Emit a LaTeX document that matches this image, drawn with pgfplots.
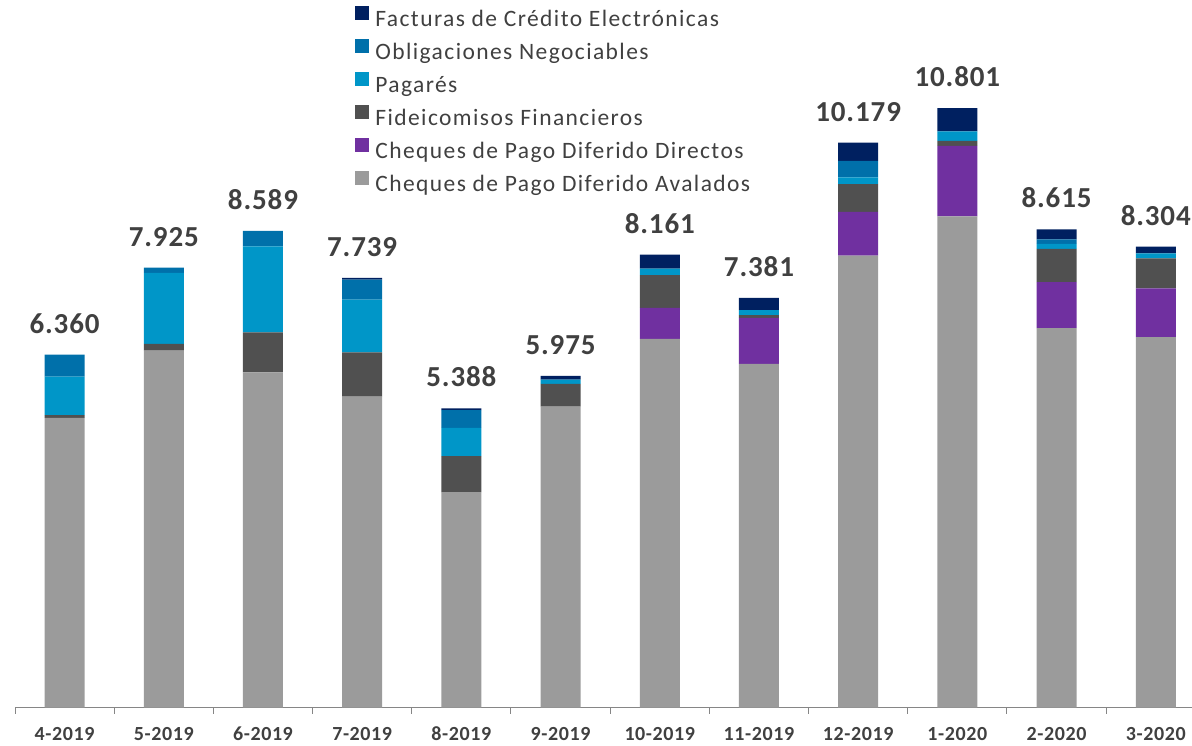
\documentclass[border=0pt]{standalone}
\usepackage{pgfplots}
\usepackage{pgfplotstable}
\pgfplotsset{compat=1.18}
\usepackage{fontspec}
\setmainfont{Carlito}
\newfontfamily\legfont[LetterSpace=6]{Carlito}
\newfontfamily\tickfont[LetterSpace=3]{Carlito}
\definecolor{cAval}{RGB}{155,155,155}
\definecolor{cDir}{RGB}{112,48,160}
\definecolor{cFF}{RGB}{80,80,80}
\definecolor{cPag}{RGB}{0,150,200}
\definecolor{cON}{RGB}{0,112,170}
\definecolor{cFCE}{RGB}{0,32,96}
\definecolor{axisgray}{RGB}{134,134,134}
\definecolor{txt}{RGB}{64,64,64}

\pgfplotstableread{
x av dir ff pag on fce lab total
0 5.22 0 0.05 0.69 0.40 0 0.0001 6.360
1 6.43 0 0.12 1.28 0.095 0 0.0001 7.925
2 6.04 0 0.72 1.55 0.28 0 0.0001 8.589
3 5.60 0 0.80 0.95 0.36 0.03 0.0001 7.739
4 3.88 0 0.65 0.51 0.32 0.03 0.0001 5.388
5 5.42 0 0.41 0.08 0 0.065 0.0001 5.975
6 6.64 0.56 0.59 0.12 0 0.25 0.0001 8.161
7 6.19 0.83 0.05 0.09 0 0.22 0.0001 7.381
8 8.14 0.79 0.50 0.12 0.30 0.33 0.0001 10.179
9 8.85 1.27 0.09 0.17 0 0.42 0.0001 10.801
10 6.835 0.83 0.60 0.09 0.08 0.18 0.0001 8.615
11 6.674 0.88 0.54 0.09 0 0.12 0.0001 8.304
}\datatable

\begin{document}
\begin{tikzpicture}
\begin{axis}[
  scale only axis, width=1177pt, height=707.5pt,
  xmin=-0.5, xmax=11.3654, ymin=0, ymax=12.748,
  ybar stacked, bar width=40pt,
  axis x line=bottom, axis y line=none,
  x axis line style={-, draw=axisgray, line width=1pt},
  ytick=\empty,
  xtick={0,...,11},
  xticklabels={4-2019,5-2019,6-2019,7-2019,8-2019,9-2019,10-2019,11-2019,12-2019,1-2020,2-2020,3-2020},
  major x tick style={draw=none},
  minor xtick={-0.5,0.5,...,10.5},
  minor x tick style={draw=axisgray, line width=1pt},
  minor tick length=6pt,
  tick align=outside,
  x tick label style={font=\tickfont\fontsize{20}{24}\selectfont\bfseries, text=txt, inner sep=0pt, yshift=-15pt},
  clip=false,
  reverse legend,
  legend cell align=left,
  legend style={at={(rel axis cs:0.2865,0.994)}, anchor=north west, draw=none, fill=none,
    font=\legfont\fontsize{23.5}{26}\selectfont, text=txt,
    nodes={inner sep=0pt, text height=17pt, text depth=5pt},
    row sep=8pt, column sep=6pt},
  legend image code/.code={\fill[#1] (0pt,0pt) rectangle (14pt,14pt);},
  every node near coord/.append style={font=\tickfont\fontsize{29}{30}\selectfont\bfseries, text=txt, anchor=south, inner sep=0pt, yshift=21pt},
]
\addplot[fill=cAval, draw=none] table[x=x, y=av] {\datatable};
\addlegendentry{Cheques de Pago Diferido Avalados}
\addplot[fill=cDir, draw=none] table[x=x, y=dir] {\datatable};
\addlegendentry{Cheques de Pago Diferido Directos}
\addplot[fill=cFF, draw=none] table[x=x, y=ff] {\datatable};
\addlegendentry{Fideicomisos Financieros}
\addplot[fill=cPag, draw=none] table[x=x, y=pag] {\datatable};
\addlegendentry{Pagarés}
\addplot[fill=cON, draw=none] table[x=x, y=on] {\datatable};
\addlegendentry{Obligaciones Negociables}
\addplot[fill=cFCE, draw=none] table[x=x, y=fce] {\datatable};
\addlegendentry{Facturas de Crédito Electrónicas}
\addplot[draw=none, fill=none, forget plot, nodes near coords, point meta=explicit symbolic] table[x=x, y=lab, meta=total] {\datatable};
\path (rel axis cs:0,0) ++(-15pt,-37.5pt) coordinate (bl);
\path (rel axis cs:1,1) coordinate (tr);
\end{axis}
\pgfresetboundingbox
\path (bl) rectangle (tr);
\end{tikzpicture}
\end{document}
